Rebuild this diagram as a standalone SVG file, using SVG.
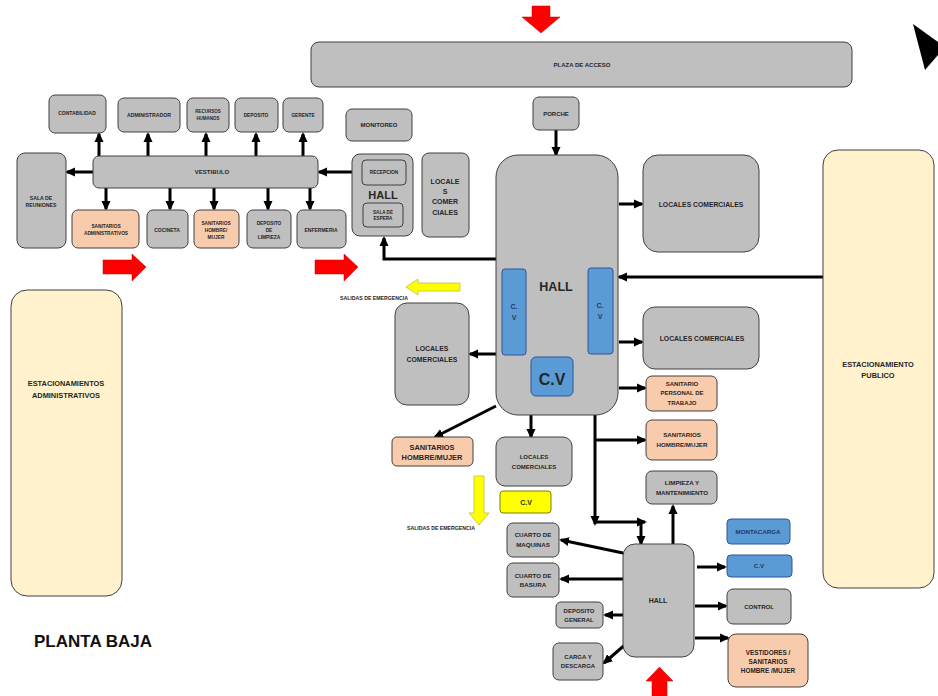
<svg xmlns="http://www.w3.org/2000/svg" width="938" height="696" viewBox="0 0 938 696">
<defs>
<style>
.n{fill:#bfbfbf;stroke:#404040;stroke-width:1}
.p{fill:#f8cbad;stroke:#404040;stroke-width:1}
.y{fill:#fff2cc;stroke:#404040;stroke-width:1}
.b{fill:#5b9bd5;stroke:#2f5597;stroke-width:1}
.ye{fill:#ffff00;stroke:#7f7f00;stroke-width:1}
.t{font-family:"Liberation Sans",Arial,sans-serif;font-weight:bold;fill:#262626;text-anchor:middle}
.tb{font-family:"Liberation Sans",Arial,sans-serif;font-weight:bold;fill:#1f3864;text-anchor:middle}
.c{stroke:#000;stroke-width:3;fill:none;marker-end:url(#ah)}
.l{stroke:#000;stroke-width:3;fill:none}
.red{fill:#ff0000;stroke:#c00000;stroke-width:0.5}
.yel{fill:#ffff00;stroke:#bfbf40;stroke-width:0.8}
</style>
<marker id="ah" markerUnits="userSpaceOnUse" markerWidth="10" markerHeight="10" viewBox="0 0 10 10" refX="8" refY="5" orient="auto">
<path d="M0,0.5 L10,5 L0,9.5 z" fill="#000"/>
</marker>
</defs>
<rect width="938" height="696" fill="#ffffff"/>

<!-- decorations -->
<polygon class="red" points="532,6 550,6 550,17 560,17 541,33 522,17 532,17"/>
<polygon fill="#000" points="913,24 938,42 938,55 925,70"/>
<polygon class="red" points="103,260 132,260 132,254 146,267 132,281 132,274 103,274"/>
<polygon class="red" points="315,260 344,260 344,254 358,267 344,281 344,274 315,274"/>
<polygon class="red" points="891,271 865,271 865,264 848,277 865,290 865,284 891,284"/>
<polygon class="red" points="659.5,667 673,681 667,681 667,696 652,696 652,681 646,681"/>
<polygon class="yel" points="460,283 418,283 418,279 406,287 418,295 418,291 460,291"/>
<polygon class="yel" points="474,476 484,476 484,513 489,513 479,525 469,513 474,513"/>
<text class="t" x="374" y="300" font-size="5.2" font-weight="normal">SALIDAS DE EMERGENCIA</text>
<text class="t" x="441" y="530" font-size="5.2" font-weight="normal">SALIDAS DE EMERGENCIA</text>
<text x="34" y="647" font-family="Liberation Sans,Arial,sans-serif" font-weight="bold" font-size="17" fill="#111">PLANTA BAJA</text>

<!-- connectors -->
<g id="connectors">
<line class="c" x1="99" y1="156" x2="99" y2="134"/>
<line class="c" x1="148" y1="156" x2="148" y2="134"/>
<line class="c" x1="206" y1="156" x2="206" y2="134"/>
<line class="c" x1="256" y1="156" x2="256" y2="134"/>
<line class="c" x1="303" y1="156" x2="303" y2="134"/>
<line class="c" x1="106" y1="188" x2="106" y2="209"/>
<line class="c" x1="170" y1="188" x2="170" y2="209"/>
<line class="c" x1="214" y1="188" x2="214" y2="209"/>
<line class="c" x1="268" y1="188" x2="268" y2="209"/>
<line class="c" x1="310" y1="188" x2="310" y2="209"/>
<line class="c" x1="93" y1="172" x2="67" y2="172"/>
<line class="c" x1="352" y1="172" x2="319" y2="172"/>
<path class="c" d="M496,259 H384 V238"/>
<line class="c" x1="556" y1="130" x2="556" y2="155"/>
<line class="c" x1="619" y1="204" x2="642" y2="204"/>
<line class="c" x1="823" y1="277" x2="619" y2="277"/>
<line class="c" x1="619" y1="342" x2="642" y2="342"/>
<line class="c" x1="619" y1="388" x2="645" y2="388"/>
<line class="c" x1="496" y1="354" x2="470" y2="354"/>
<line class="c" x1="496" y1="406" x2="435" y2="437"/>
<line class="c" x1="531" y1="415" x2="531" y2="437"/>
<line class="c" x1="595" y1="415" x2="595" y2="524"/>
<line class="c" x1="595" y1="440" x2="645" y2="440"/>
<line class="c" x1="595" y1="522" x2="645" y2="522"/>
<line class="c" x1="641" y1="522" x2="641" y2="544"/>
<line class="c" x1="673" y1="544" x2="673" y2="506"/>
<line class="c" x1="623" y1="553" x2="561" y2="540"/>
<line class="c" x1="623" y1="579" x2="561" y2="579"/>
<line class="c" x1="623" y1="615" x2="605" y2="615"/>
<line class="c" x1="627" y1="643" x2="604" y2="663"/>
<line class="c" x1="697" y1="567" x2="725" y2="567"/>
<line class="c" x1="695" y1="606" x2="726" y2="606"/>
<line class="c" x1="695" y1="638" x2="728" y2="638"/>
</g>

<!-- nodes -->
<g id="plaza"><rect class="n" x="311" y="42" width="541" height="45" rx="8"/><text class="t" x="582" y="67" font-size="6">PLAZA DE ACCESO</text></g>

<g id="contabilidad"><rect class="n" x="49" y="95" width="57" height="38" rx="6"/><text class="t" x="77" y="115" font-size="5">CONTABILIDAD</text></g>
<g id="administrador"><rect class="n" x="118" y="98" width="62" height="34" rx="6"/><text class="t" x="149" y="117" font-size="5.2">ADMINISTRADOR</text></g>
<g id="rrhh"><rect class="n" x="187" y="98" width="42" height="34" rx="6"/><text class="t" x="208" y="113" font-size="4.5">RECURSOS</text><text class="t" x="208" y="120" font-size="4.5">HUMANOS</text></g>
<g id="deposito"><rect class="n" x="235" y="98" width="43" height="34" rx="6"/><text class="t" x="256" y="117" font-size="4.8">DEPOSITO</text></g>
<g id="gerente"><rect class="n" x="283" y="98" width="40" height="34" rx="6"/><text class="t" x="303" y="117" font-size="4.8">GERENTE</text></g>
<g id="vestibulo"><rect class="n" x="93" y="156" width="225" height="32" rx="6"/><text class="t" x="212" y="174" font-size="6">VESTIBULO</text></g>
<g id="sala-reuniones"><rect class="n" x="17" y="153" width="49" height="95" rx="8"/><text class="t" x="41" y="200" font-size="5.2">SALA DE</text><text class="t" x="41" y="207" font-size="5.2">REUNIONES</text></g>
<g id="sanit-admin"><rect class="p" x="72" y="210" width="67" height="38" rx="6"/><text class="t" x="106" y="228" font-size="4.8">SANITARIOS</text><text class="t" x="106" y="235" font-size="4.8">ADMINISTRATIVOS</text></g>
<g id="cocineta"><rect class="n" x="147" y="210" width="41" height="38" rx="6"/><text class="t" x="167" y="232" font-size="5">COCINETA</text></g>
<g id="sanit-hm-admin"><rect class="p" x="194" y="210" width="45" height="38" rx="6"/><text class="t" x="216" y="225" font-size="4.8">SANITARIOS</text><text class="t" x="216" y="232" font-size="4.8">HOMBRE/</text><text class="t" x="216" y="239" font-size="4.8">MUJER</text></g>
<g id="deposito-limpieza"><rect class="n" x="247" y="210" width="44" height="38" rx="6"/><text class="t" x="269" y="225" font-size="4.8">DEPOSITO</text><text class="t" x="269" y="232" font-size="4.8">DE</text><text class="t" x="269" y="239" font-size="4.8">LIMPIEZA</text></g>
<g id="enfermeria"><rect class="n" x="297" y="210" width="49" height="38" rx="6"/><text class="t" x="321" y="232" font-size="5">ENFERMERIA</text></g>

<g id="monitoreo"><rect class="n" x="346" y="109" width="66" height="32" rx="6"/><text class="t" x="379" y="127" font-size="6">MONITOREO</text></g>
<g id="hall-admin"><rect class="n" x="352" y="154" width="61" height="82" rx="8"/>
<rect class="n" x="362" y="160" width="44" height="25" rx="4"/><text class="t" x="384" y="174" font-size="4.8">RECEPCION</text>
<text class="t" x="383" y="199" font-size="11">HALL</text>
<rect class="n" x="363" y="203" width="40" height="24" rx="4"/><text class="t" x="383" y="214" font-size="4.6">SALA DE</text><text class="t" x="383" y="220" font-size="4.6">ESPERA</text></g>
<g id="locales-narrow"><rect class="n" x="422" y="153" width="47" height="84" rx="7"/><text class="t" x="445" y="184" font-size="7">LOCALE</text><text class="t" x="445" y="194" font-size="7">S</text><text class="t" x="445" y="204" font-size="7">COMER</text><text class="t" x="445" y="215" font-size="7">CIALES</text></g>

<g id="porche"><rect class="n" x="533" y="97" width="46" height="33" rx="6"/><text class="t" x="556" y="116" font-size="6">PORCHE</text></g>

<g id="hall-main"><rect class="n" x="496" y="155" width="122" height="260" rx="22"/><text class="t" x="556" y="291" font-size="12.5">HALL</text>
<rect class="b" x="502" y="269" width="24" height="86" rx="3"/><text class="tb" x="514" y="309" font-size="7">C.</text><text class="tb" x="514" y="320" font-size="7">V</text>
<rect class="b" x="588" y="268" width="25" height="86" rx="3"/><text class="tb" x="600" y="308" font-size="7">C.</text><text class="tb" x="600" y="319" font-size="7">V</text>
<rect class="b" x="531" y="357" width="42" height="39" rx="5"/><text class="t" x="552" y="385" font-size="16" fill="#0d0d0d">C.V</text></g>

<g id="locales-tr"><rect class="n" x="643" y="155" width="116" height="97" rx="15"/><text class="t" x="701" y="207" font-size="6.8">LOCALES COMERCIALES</text></g>
<g id="locales-mr"><rect class="n" x="643" y="307" width="116" height="62" rx="12"/><text class="t" x="702" y="341" font-size="6.8">LOCALES COMERCIALES</text></g>
<g id="sanit-personal"><rect class="p" x="646" y="376" width="71" height="35" rx="6"/><text class="t" x="682" y="386" font-size="6">SANITARIO</text><text class="t" x="682" y="395" font-size="6">PERSONAL DE</text><text class="t" x="682" y="405" font-size="6">TRABAJO</text></g>
<g id="sanit-hm-r"><rect class="p" x="646" y="420" width="71" height="40" rx="6"/><text class="t" x="682" y="437" font-size="6.2">SANITARIOS</text><text class="t" x="682" y="447" font-size="6.2">HOMBRE/MUJER</text></g>
<g id="limpieza"><rect class="n" x="646" y="471" width="71" height="33" rx="6"/><text class="t" x="682" y="485" font-size="6.2">LIMPIEZA Y</text><text class="t" x="682" y="495" font-size="6.2">MANTENIMIENTO</text></g>

<g id="estac-publico"><rect class="y" x="823" y="150" width="111" height="438" rx="15"/><text class="t" x="878" y="367" font-size="7.4">ESTACIONAMIENTO</text><text class="t" x="878" y="378" font-size="7.4">PUBLICO</text></g>
<g id="estac-admin"><rect class="y" x="11" y="290" width="111" height="306" rx="16"/><text class="t" x="66" y="386" font-size="7.4">ESTACIONAMIENTOS</text><text class="t" x="66" y="398" font-size="7.4">ADMINISTRATIVOS</text></g>

<g id="locales-ml"><rect class="n" x="395" y="303" width="74" height="102" rx="12"/><text class="t" x="432" y="351" font-size="6.9">LOCALES</text><text class="t" x="432" y="362" font-size="6.9">COMERCIALES</text></g>
<g id="sanit-hm-l"><rect class="p" x="392" y="437" width="81" height="29" rx="5"/><text class="t" x="432" y="450" font-size="7.4">SANITARIOS</text><text class="t" x="432" y="460" font-size="7.4">HOMBRE/MUJER</text></g>
<g id="locales-b"><rect class="n" x="496" y="437" width="76" height="49" rx="9"/><text class="t" x="534" y="459" font-size="6">LOCALES</text><text class="t" x="534" y="469" font-size="6">COMERCIALES</text></g>
<g id="cv-yellow"><rect class="ye" x="500" y="491" width="51" height="22" rx="3"/><text class="t" x="526" y="505" font-size="7">C.V</text></g>

<g id="maquinas"><rect class="n" x="507" y="523" width="52" height="34" rx="6"/><text class="t" x="533" y="537" font-size="6.2">CUARTO DE</text><text class="t" x="533" y="547" font-size="6.2">MAQUINAS</text></g>
<g id="basura"><rect class="n" x="507" y="563" width="52" height="34" rx="6"/><text class="t" x="533" y="578" font-size="6.2">CUARTO DE</text><text class="t" x="533" y="587" font-size="6.2">BASURA</text></g>
<g id="deposito-general"><rect class="n" x="556" y="602" width="47" height="26" rx="5"/><text class="t" x="579" y="613" font-size="6">DEPOSITO</text><text class="t" x="579" y="622" font-size="6">GENERAL</text></g>
<g id="carga"><rect class="n" x="553" y="643" width="50" height="37" rx="6"/><text class="t" x="578" y="659" font-size="6">CARGA Y</text><text class="t" x="578" y="668" font-size="6">DESCARGA</text></g>
<g id="hall-service"><rect class="n" x="623" y="544" width="71" height="113" rx="12"/><text class="t" x="658" y="603" font-size="7">HALL</text></g>
<g id="montacarga"><rect class="b" x="727" y="519" width="63" height="25" rx="4"/><text class="tb" x="758" y="534" font-size="6.2">MONTACARGA</text></g>
<g id="cv-blue"><rect class="b" x="727" y="555" width="65" height="22" rx="4"/><text class="tb" x="759" y="568" font-size="6.2">C.V</text></g>
<g id="control"><rect class="n" x="727" y="589" width="64" height="35" rx="6"/><text class="t" x="759" y="609" font-size="6">CONTROL</text></g>
<g id="vestidores"><rect class="p" x="728" y="634" width="80" height="53" rx="8"/><text class="t" x="768" y="655" font-size="6.4">VESTIDORES /</text><text class="t" x="768" y="664" font-size="6.4">SANITARIOS</text><text class="t" x="768" y="673" font-size="6.4">HOMBRE /MUJER</text></g>
</svg>
